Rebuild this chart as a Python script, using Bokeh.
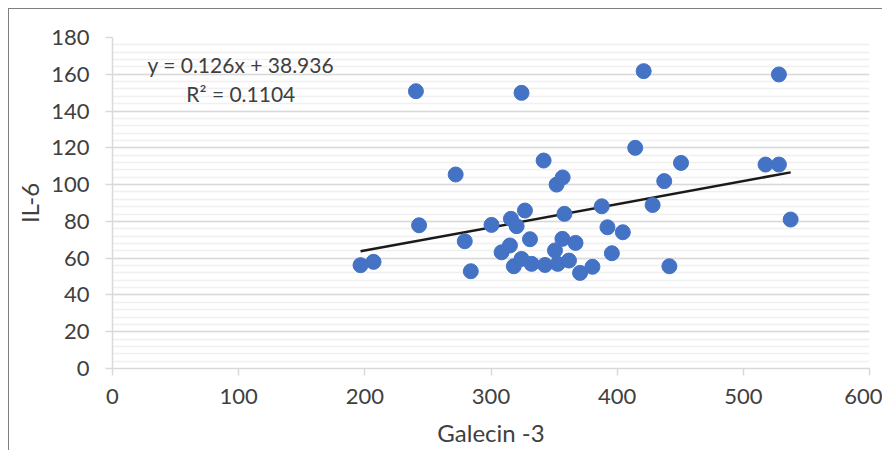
import numpy as np
from bokeh.plotting import figure
from bokeh.models import Label, Range1d, SingleIntervalTicker, ColumnDataSource
from bokeh.embed import file_html
from bokeh.resources import INLINE

# ---- data ----
galecin3 = [196.6, 206.9, 240.5, 243.0, 272.0, 279.2, 284.0, 300.4, 308.4, 315.0,
            315.8, 318.1, 320.3, 324.2, 324.2, 326.9, 330.9, 332.2, 341.7, 342.8,
            350.7, 352.0, 352.9, 356.8, 356.6, 358.2, 361.8, 367.0, 370.6, 380.4,
            387.8, 392.3, 395.8, 404.5, 414.3, 421.0, 428.1, 437.3, 441.4, 450.6,
            517.6, 528.2, 528.2, 537.5]
il6 = [56.2, 58.0, 150.8, 77.9, 105.5, 69.2, 52.9, 78.1, 63.2, 66.9,
       81.4, 55.6, 77.4, 149.9, 59.6, 85.9, 70.3, 56.9, 113.1, 56.3,
       64.2, 100.0, 56.9, 103.9, 70.5, 84.1, 58.7, 68.3, 52.0, 55.3,
       88.2, 76.8, 62.7, 74.1, 120.0, 161.7, 88.9, 101.9, 55.6, 111.8,
       110.9, 110.9, 159.9, 81.0]
slope = 0.126
intercept = 38.936
r_squared = 0.1104
x_title = "Galecin -3"
y_title = "IL-6"

FONT = "Lato"
TXT = "#404040"
GRID = "#d9d9d9"

p = figure(width=874, height=442,
           x_range=Range1d(0, 600), y_range=Range1d(0, 180),
           output_backend="svg", toolbar_location=None,
           min_border_left=103, min_border_right=14,
           min_border_top=28, min_border_bottom=83)
p.margin = (8, 0, 0, 8)
p.styles = {"border-left": "1px solid #7f7f7f", "border-top": "1px solid #7f7f7f"}
p.outline_line_color = None
p.background_fill_color = "white"
p.border_fill_color = "white"

p.xaxis.ticker = SingleIntervalTicker(interval=100, num_minor_ticks=0)
p.yaxis.ticker = SingleIntervalTicker(interval=20, num_minor_ticks=5)

p.xgrid.visible = False
p.ygrid.grid_line_color = GRID
p.ygrid.grid_line_width = 1.5
p.ygrid.minor_grid_line_color = "#f0f0f0"
p.ygrid.minor_grid_line_width = 1.5

for ax in (p.xaxis, p.yaxis):
    ax.axis_line_color = GRID
    ax.axis_line_width = 1.5
    ax.major_tick_line_color = GRID
    ax.major_tick_line_width = 1.5
    ax.major_tick_out = 7
    ax.major_tick_in = 0
    ax.minor_tick_out = 0
    ax.minor_tick_in = 0
    ax.major_label_text_font = FONT
    ax.major_label_text_font_size = "22px"
    ax.major_label_text_color = TXT
    ax.axis_label_text_font = FONT
    ax.axis_label_text_font_size = "24px"
    ax.axis_label_text_font_style = "normal"
    ax.axis_label_text_color = TXT

p.xaxis.axis_label = x_title
p.yaxis.axis_label = y_title
p.xaxis.major_label_standoff = 13
p.yaxis.major_label_standoff = 16
p.xaxis.axis_label_standoff = 11
p.yaxis.axis_label_standoff = 4

# trendline
xs = np.array([min(galecin3), max(galecin3)])
p.line(xs, slope * xs + intercept, line_color="#1a1a1a", line_width=2.5)

src = ColumnDataSource(dict(x=galecin3, y=il6))
p.scatter("x", "y", source=src, size=15, fill_color="#4472C4",
          line_color="#4472C4", line_width=1)

eq1 = f"y = {slope}x + {intercept}"
eq2 = f"R² = {r_squared}"
p.add_layout(Label(x=101.7, y=165.3, text=eq1, text_align="center",
                   text_baseline="middle", text_font=FONT,
                   text_font_size="21px", text_color=TXT))
p.add_layout(Label(x=101.7, y=149.5, text=eq2, text_align="center",
                   text_baseline="middle", text_font=FONT,
                   text_font_size="21px", text_color=TXT))

open("out.html", "w").write(file_html(p, INLINE))
